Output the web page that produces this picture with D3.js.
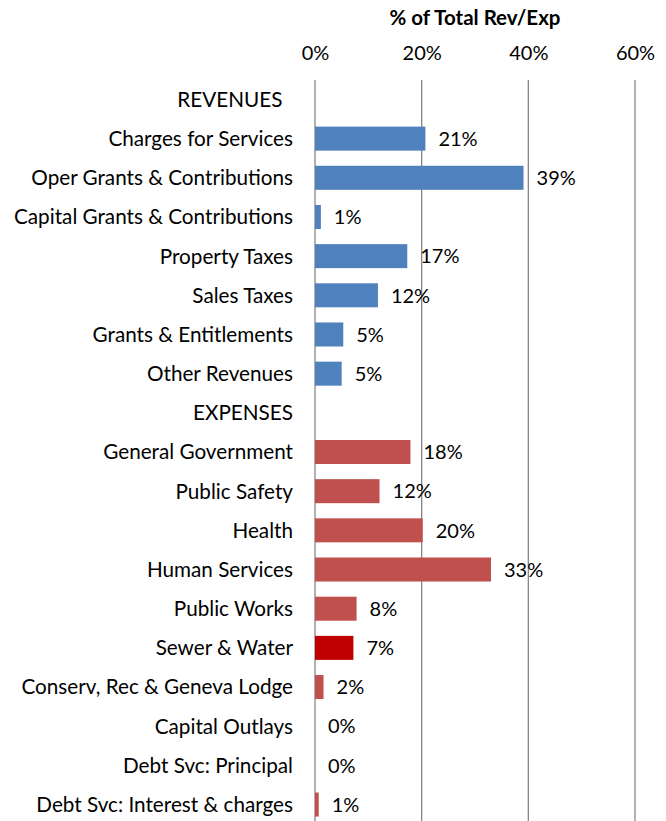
<!DOCTYPE html>
<html>
<head>
<meta charset="utf-8">
<script src="https://cdn.jsdelivr.net/npm/d3@7"></script>
<style>
  body { margin: 0; background: #fff; }
  text { font-family: Lato, "Open Sans", sans-serif; fill: #000; }
</style>
</head>
<body>
<div id="chart"></div>
<script>
// row labels, top to bottom (section headers have no value)
var categories = [
    'REVENUES\u00a0\u00a0', 'Charges for Services', 'Oper Grants & Contributions',
    'Capital Grants & Contributions', 'Property Taxes', 'Sales Taxes',
    'Grants & Entitlements', 'Other Revenues', 'EXPENSES',
    'General Government', 'Public Safety', 'Health', 'Human Services',
    'Public Works', 'Sewer & Water', 'Conserv, Rec & Geneva Lodge',
    'Capital Outlays', 'Debt Svc: Principal', 'Debt Svc: Interest & charges'
];
// percent of total rev / exp
var values = [
    null, 20.7, 39.1, 1.1, 17.3, 11.8, 5.3, 5.0, null,
    17.9, 12.1, 20.2, 33.0, 7.8, 7.2, 1.6, 0, 0, 0.7
];
var groups = [
    'head', 'rev', 'rev', 'rev', 'rev', 'rev', 'rev', 'rev', 'head',
    'exp', 'exp', 'exp', 'exp', 'exp', 'hi', 'exp', 'exp', 'exp', 'exp'
];
var ticks = [0, 20, 40, 60];

var colors = { rev: '#4F81BD', exp: '#C0504D', hi: '#C00000' };

var width = 666, height = 821;

var rows = categories.map(function(c, i) {
    return { name: c, value: values[i], group: groups[i], key: i };
});

var svg = d3.select('#chart')
    .append('svg')
        .attr('width', width)
        .attr('height', height);

var x = d3.scaleLinear()
    .domain([0, 60])
    .range([315, 635]);

var y = d3.scaleBand()
    .domain(rows.map(d => d.key))
    .range([80, 824])
    .paddingInner(0.387)
    .paddingOuter(0.19);

// title
svg.append('text')
    .attr('x', 475)
    .attr('y', 25)
    .attr('text-anchor', 'middle')
    .style('font-weight', 'bold')
    .style('font-size', '20.5px')
    .text('% of Total Rev/Exp');

// top axis
var xAxis = d3.axisTop(x)
    .tickValues(ticks)
    .tickFormat(d => d + '%')
    .tickSize(0)
    .tickPadding(0);

svg.append('g')
    .attr('transform', 'translate(0,60)')
    .call(xAxis)
    .call(g => g.select('.domain').remove())
    .selectAll('text')
        .style('font-size', '20px')
        .style('font-family', 'Lato, "Open Sans", sans-serif');

// gridlines
svg.selectAll('.grid')
    .data(ticks)
    .enter()
    .append('line')
    .classed('grid', true)
    .attr('x1', d => x(d))
    .attr('x2', d => x(d))
    .attr('y1', 80)
    .attr('y2', height)
    .style('stroke', '#868686')
    .style('stroke-width', 1.3);

// bars
var barRows = rows.filter(d => d.value !== null);

svg.selectAll('.bar')
    .data(barRows)
    .enter()
    .append('rect')
    .classed('bar', true)
    .attr('x', x(0))
    .attr('y', d => y(d.key))
    .attr('width', d => x(d.value) - x(0))
    .attr('height', y.bandwidth())
    .attr('fill', d => colors[d.group]);

// value labels
var fmt = d3.format('.0f');
svg.selectAll('.val')
    .data(barRows)
    .enter()
    .append('text')
    .classed('val', true)
    .attr('x', d => x(d.value) + 13)
    .attr('y', d => y(d.key) + y.bandwidth() / 2)
    .attr('dy', '0.36em')
    .style('font-size', '20px')
    .text(d => fmt(d.value) + '%');

// category labels
svg.selectAll('.cat')
    .data(rows)
    .enter()
    .append('text')
    .classed('cat', true)
    .attr('x', 293)
    .attr('y', d => y(d.key) + y.bandwidth() / 2)
    .attr('dy', '0.36em')
    .attr('text-anchor', 'end')
    .style('font-size', '20.7px')
    .text(d => d.name);
</script>
</body>
</html>
